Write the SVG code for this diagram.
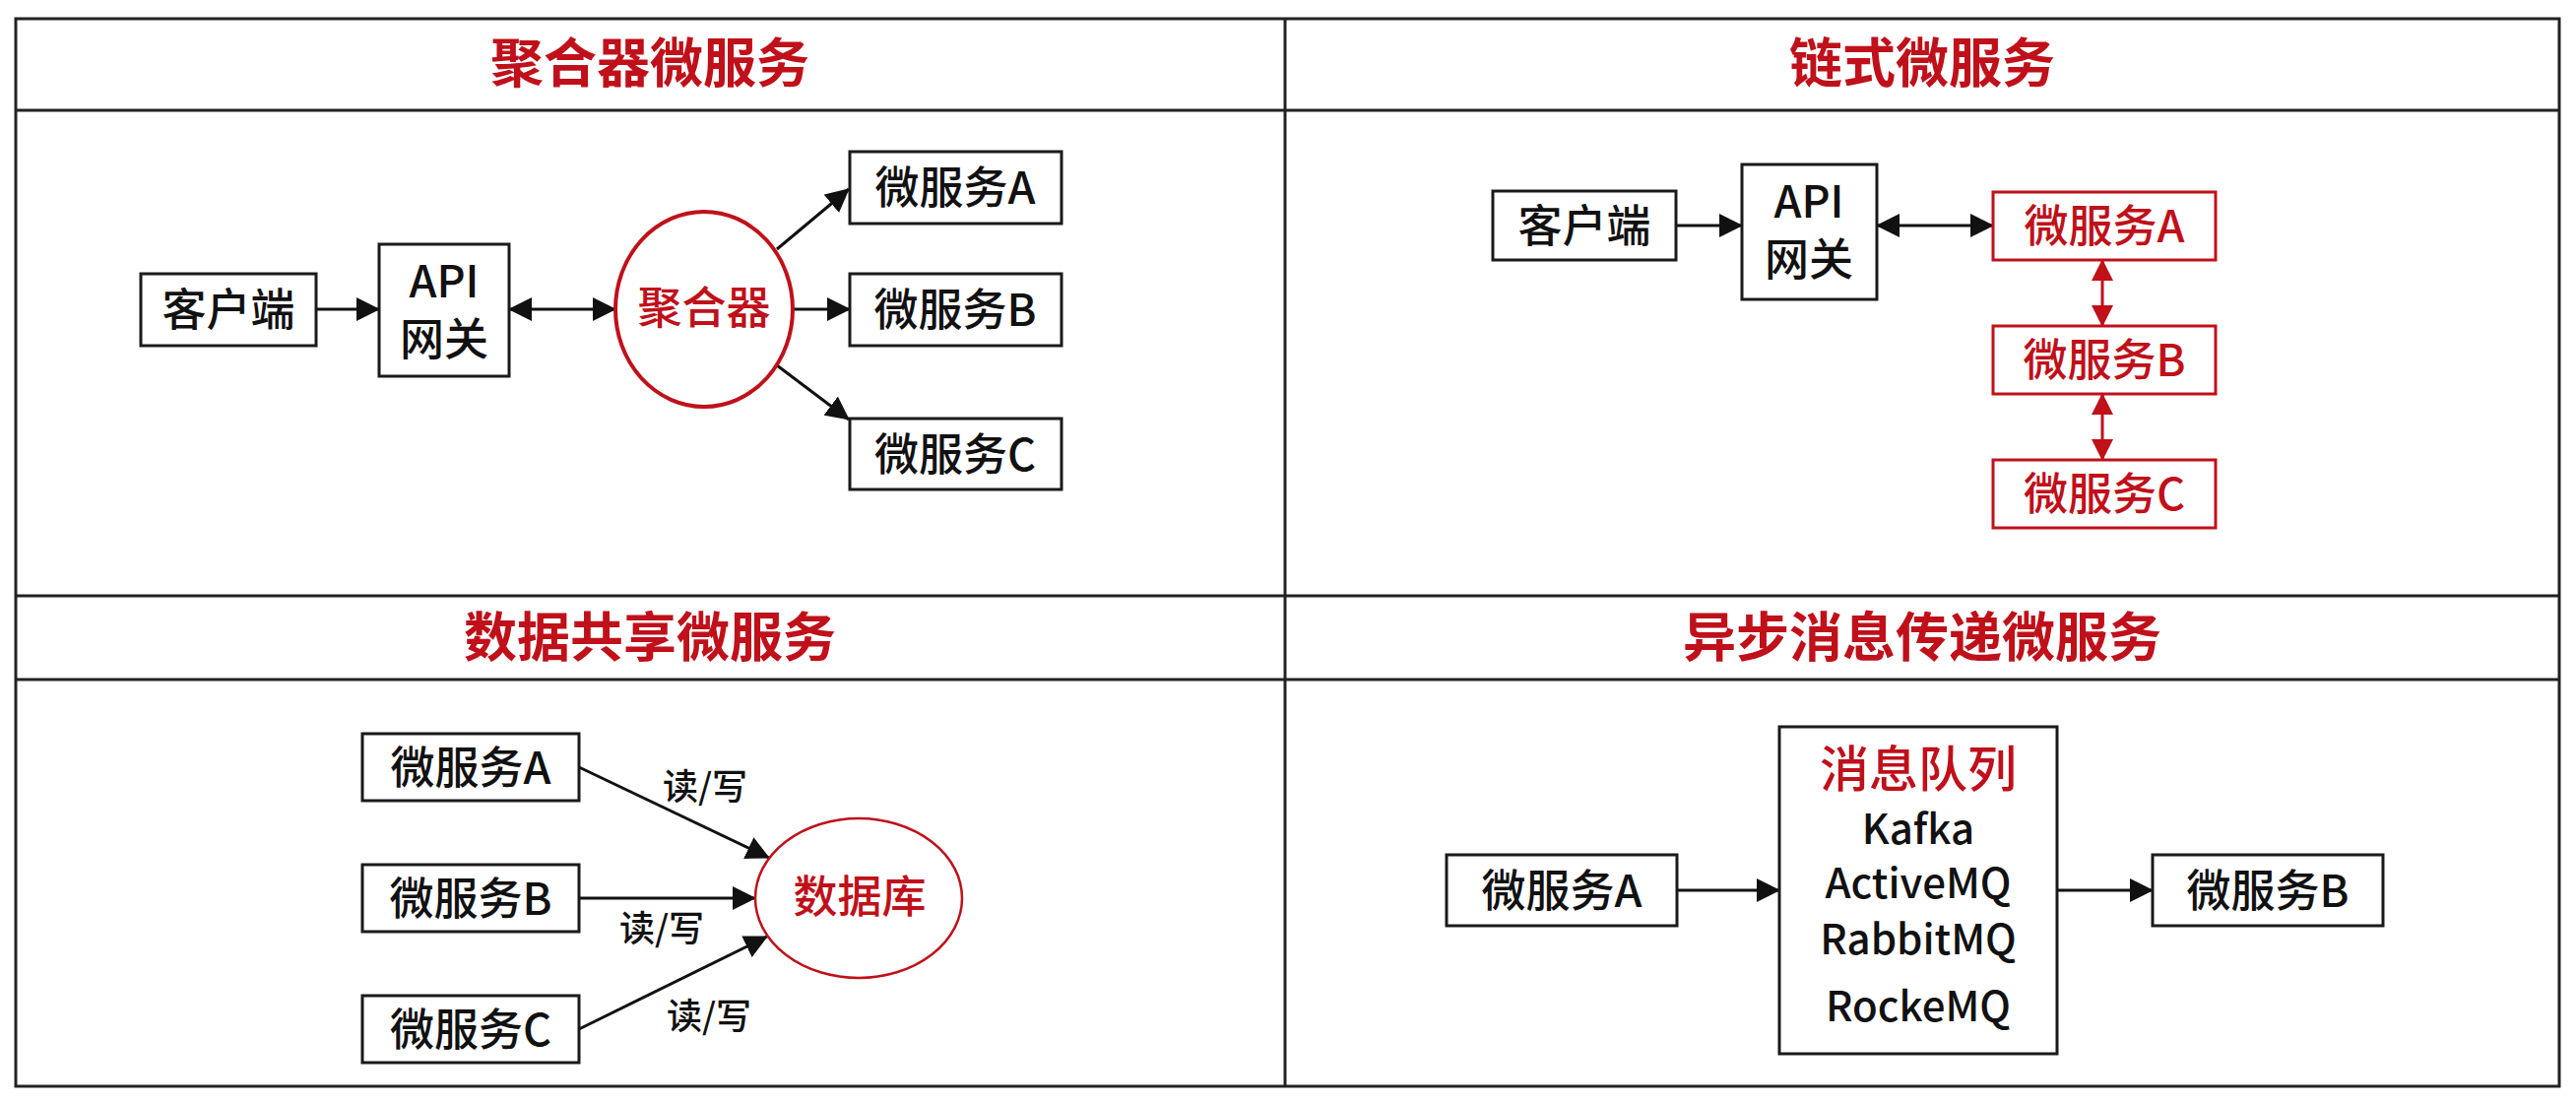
<svg xmlns="http://www.w3.org/2000/svg" width="2616" height="1120" viewBox="0 0 2616 1120">
<defs>
<style>
text{font-family:"Noto Sans CJK SC","Noto Sans",sans-serif;text-anchor:middle;}
.title{font-size:54px;font-weight:700;fill:#c0101a;}
.t{font-size:45px;font-weight:500;fill:#111;}
.tr{font-size:45px;font-weight:500;fill:#c0101a;}
.lbl{font-size:36px;font-weight:500;fill:#111;}
.mq{font-size:42px;font-weight:500;fill:#111;}
.frame{fill:none;stroke:#222;stroke-width:3;}
.box{fill:#fff;stroke:#1a1a1a;stroke-width:3;}
.rbox{fill:#fff;stroke:#c0101a;stroke-width:3;}
.conn{fill:none;stroke:#111;stroke-width:3;}
.rconn{fill:none;stroke:#c0101a;stroke-width:3;}
</style>
<marker id="ah" markerUnits="userSpaceOnUse" markerWidth="24" markerHeight="24" viewBox="0 0 24 24" refX="23" refY="12" orient="auto-start-reverse">
<path d="M0,0 L24,12 L0,24 z" fill="#111"/>
</marker>
<marker id="rah" markerUnits="userSpaceOnUse" markerWidth="22" markerHeight="22" viewBox="0 0 22 22" refX="21" refY="11" orient="auto-start-reverse">
<path d="M0,0 L22,11 L0,22 z" fill="#c0101a"/>
</marker>
</defs>
<rect width="2616" height="1120" fill="#fff"/>

<g id="frame">
<rect class="frame" x="16" y="19" width="2583" height="1084"/>
<line class="frame" x1="1305" y1="19" x2="1305" y2="1103"/>
<line class="frame" x1="16" y1="112" x2="2599" y2="112"/>
<line class="frame" x1="16" y1="605" x2="2599" y2="605"/>
<line class="frame" x1="16" y1="690" x2="2599" y2="690"/>
<text class="title" x="660" y="84">聚合器微服务</text>
<text class="title" x="1952" y="84">链式微服务</text>
<text class="title" x="660" y="667">数据共享微服务</text>
<text class="title" x="1952" y="667">异步消息传递微服务</text>
</g>

<g id="connectors">
<line class="conn" x1="321" y1="314" x2="385" y2="314" marker-end="url(#ah)"/>
<line class="conn" x1="517" y1="314" x2="625" y2="314" marker-start="url(#ah)" marker-end="url(#ah)"/>
<line class="conn" x1="789" y1="253" x2="862" y2="192" marker-end="url(#ah)"/>
<line class="conn" x1="805" y1="314" x2="863" y2="314" marker-end="url(#ah)"/>
<line class="conn" x1="789" y1="371" x2="862" y2="426" marker-end="url(#ah)"/>

<line class="conn" x1="1702" y1="229" x2="1769" y2="229" marker-end="url(#ah)"/>
<line class="conn" x1="1906" y1="229" x2="2024" y2="229" marker-start="url(#ah)" marker-end="url(#ah)"/>
<line class="rconn" x1="2135" y1="264" x2="2135" y2="331" marker-start="url(#rah)" marker-end="url(#rah)"/>
<line class="rconn" x1="2135" y1="400" x2="2135" y2="467" marker-start="url(#rah)" marker-end="url(#rah)"/>

<line class="conn" x1="588" y1="779" x2="781" y2="871" marker-end="url(#ah)"/>
<line class="conn" x1="588" y1="912" x2="767" y2="912" marker-end="url(#ah)"/>
<line class="conn" x1="588" y1="1045" x2="779" y2="951" marker-end="url(#ah)"/>
<text class="lbl" x="716" y="812">读/写</text>
<text class="lbl" x="672" y="956">读/写</text>
<text class="lbl" x="720" y="1045">读/写</text>

<line class="conn" x1="1703" y1="904" x2="1807" y2="904" marker-end="url(#ah)"/>
<line class="conn" x1="2089" y1="904" x2="2186" y2="904" marker-end="url(#ah)"/>
</g>

<!-- Aggregator panel -->
<g id="agg-client">
<rect class="box" x="143" y="278" width="178" height="73"/>
<text class="t" x="232" y="331">客户端</text>
</g>
<g id="agg-gateway">
<rect class="box" x="385" y="248" width="132" height="134"/>
<text class="t" x="451" y="302">API</text>
<text class="t" x="451" y="361">网关</text>
</g>
<g id="agg-aggregator">
<ellipse cx="715" cy="314" rx="90" ry="99" fill="#fff" stroke="#c0101a" stroke-width="4"/>
<text class="tr" x="715" y="329">聚合器</text>
</g>
<g id="agg-svcA">
<rect class="box" x="863" y="154" width="215" height="73"/>
<text class="t" x="970" y="207">微服务A</text>
</g>
<g id="agg-svcB">
<rect class="box" x="863" y="278" width="215" height="73"/>
<text class="t" x="970" y="331">微服务B</text>
</g>
<g id="agg-svcC">
<rect class="box" x="863" y="425" width="215" height="72"/>
<text class="t" x="970" y="478">微服务C</text>
</g>

<!-- Chain panel -->
<g id="chain-client">
<rect class="box" x="1516" y="194" width="186" height="70"/>
<text class="t" x="1609" y="246">客户端</text>
</g>
<g id="chain-gateway">
<rect class="box" x="1769" y="167" width="137" height="137"/>
<text class="t" x="1837" y="221">API</text>
<text class="t" x="1837" y="280">网关</text>
</g>
<g id="chain-svcA">
<rect class="rbox" x="2024" y="195" width="226" height="69"/>
<text class="tr" x="2137" y="246">微服务A</text>
</g>
<g id="chain-svcB">
<rect class="rbox" x="2024" y="331" width="226" height="69"/>
<text class="tr" x="2137" y="382">微服务B</text>
</g>
<g id="chain-svcC">
<rect class="rbox" x="2024" y="467" width="226" height="69"/>
<text class="tr" x="2137" y="518">微服务C</text>
</g>

<!-- Shared data panel -->
<g id="share-svcA">
<rect class="box" x="368" y="745" width="220" height="68"/>
<text class="t" x="478" y="796">微服务A</text>
</g>
<g id="share-svcB">
<rect class="box" x="368" y="878" width="220" height="68"/>
<text class="t" x="478" y="929">微服务B</text>
</g>
<g id="share-svcC">
<rect class="box" x="368" y="1011" width="220" height="68"/>
<text class="t" x="478" y="1062">微服务C</text>
</g>
<g id="share-db">
<ellipse cx="872" cy="912" rx="105" ry="81" fill="#fff" stroke="#c0101a" stroke-width="2.5"/>
<text class="tr" x="873" y="927">数据库</text>
</g>

<!-- Async messaging panel -->
<g id="async-svcA">
<rect class="box" x="1469" y="868" width="234" height="72"/>
<text class="t" x="1586" y="921">微服务A</text>
</g>
<g id="async-mq">
<rect class="box" x="1807" y="738" width="282" height="332"/>
<text class="tr" x="1948" y="799" style="font-size:50px">消息队列</text>
<text class="mq" x="1948" y="857">Kafka</text>
<text class="mq" x="1948" y="912">ActiveMQ</text>
<text class="mq" x="1948" y="969">RabbitMQ</text>
<text class="mq" x="1948" y="1037">RockeMQ</text>
</g>
<g id="async-svcB">
<rect class="box" x="2186" y="868" width="234" height="72"/>
<text class="t" x="2303" y="921">微服务B</text>
</g>
</svg>
